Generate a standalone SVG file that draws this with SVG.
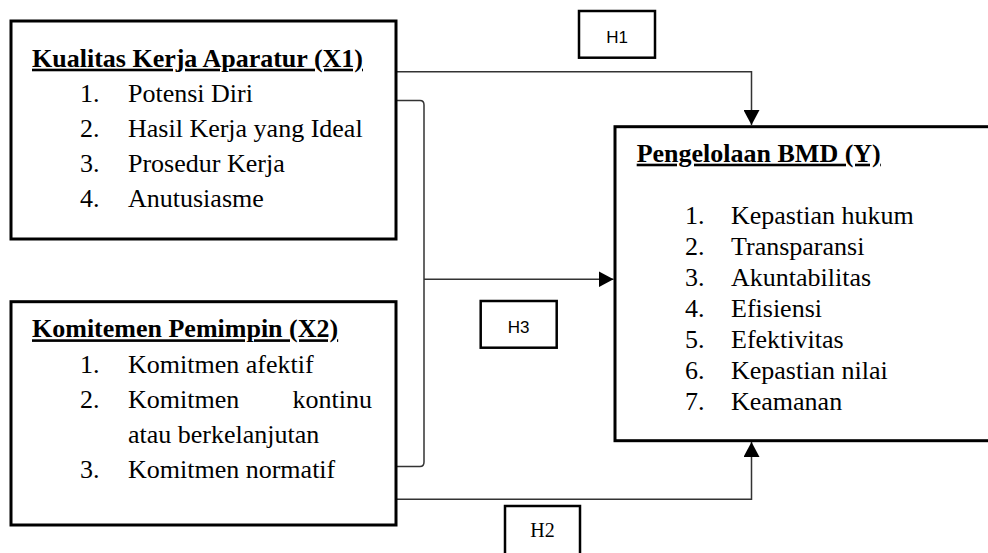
<svg xmlns="http://www.w3.org/2000/svg" width="988" height="553" viewBox="0 0 988 553">
<style>
.box{fill:#fff;stroke:#000;stroke-width:3}
.hbox{fill:#fff;stroke:#000;stroke-width:2.5}
.t{font-family:"Liberation Serif","Times New Roman",serif;font-size:26px;fill:#000}
.ttl{font-family:"Liberation Serif","Times New Roman",serif;font-size:26px;font-weight:bold;fill:#000;text-decoration:underline}
.h{font-family:"Liberation Sans",Arial,sans-serif;font-size:17px;fill:#000;text-anchor:middle}
.h2{font-family:"Liberation Serif","Times New Roman",serif;font-size:20px;fill:#000;text-anchor:middle}
.c{fill:none;stroke:#333;stroke-width:1.5}
</style>
<defs>
<marker id="arr" viewBox="0 0 15 16" refX="15" refY="8" markerWidth="15" markerHeight="16" orient="auto" markerUnits="userSpaceOnUse">
<path d="M0,0 L15,8 L0,16 z" fill="#000"/>
</marker>
</defs>
<rect width="988" height="553" fill="#fff"/>

<g id="connectors">
<path class="c" d="M396,71.7 H751.5 V125" marker-end="url(#arr)"/>
<path class="c" d="M396,100.5 H420 Q424,100.5 424,105 V462 Q424,466.5 420,466.5 H396"/>
<path class="c" d="M424,279.3 H613.5" marker-end="url(#arr)"/>
<path class="c" d="M396,499.3 H751.5 V442" marker-end="url(#arr)"/>
</g>

<g id="x1">
<rect class="box" x="11" y="21" width="385" height="218"/>
<text class="ttl" x="32" y="66.7">Kualitas Kerja Aparatur (X1)</text>
<text class="t" x="80" y="102">1.</text><text class="t" x="128" y="102">Potensi Diri</text>
<text class="t" x="80" y="137">2.</text><text class="t" x="128" y="137">Hasil Kerja yang Ideal</text>
<text class="t" x="80" y="172">3.</text><text class="t" x="128" y="172">Prosedur Kerja</text>
<text class="t" x="80" y="207">4.</text><text class="t" x="128" y="207">Anutusiasme</text>
</g>

<g id="x2">
<rect class="box" x="11" y="301.7" width="385" height="223.3"/>
<text class="ttl" x="32" y="337.3">Komitemen Pemimpin (X2)</text>
<text class="t" x="80" y="372.5">1.</text><text class="t" x="128" y="372.5">Komitmen afektif</text>
<text class="t" x="80" y="407.5">2.</text><text class="t" x="128" y="407.5">Komitmen</text><text class="t" x="372" y="407.5" text-anchor="end">kontinu</text>
<text class="t" x="128" y="442.7">atau berkelanjutan</text>
<text class="t" x="80" y="478">3.</text><text class="t" x="128" y="478">Komitmen normatif</text>
</g>

<g id="y">
<rect class="box" x="615" y="126.7" width="400" height="314"/>
<text class="ttl" x="636.7" y="161.7">Pengelolaan BMD (Y)</text>
<text class="t" x="685" y="224">1.</text><text class="t" x="731" y="224">Kepastian hukum</text>
<text class="t" x="685" y="255">2.</text><text class="t" x="731" y="255">Transparansi</text>
<text class="t" x="685" y="286">3.</text><text class="t" x="731" y="286">Akuntabilitas</text>
<text class="t" x="685" y="317">4.</text><text class="t" x="731" y="317">Efisiensi</text>
<text class="t" x="685" y="348">5.</text><text class="t" x="731" y="348">Efektivitas</text>
<text class="t" x="685" y="379">6.</text><text class="t" x="731" y="379">Kepastian nilai</text>
<text class="t" x="685" y="410">7.</text><text class="t" x="731" y="410">Keamanan</text>
</g>

<g id="h1">
<rect class="hbox" x="579" y="11" width="76" height="46.7"/>
<text class="h" x="617" y="43">H1</text>
</g>

<g id="h3">
<rect class="hbox" x="480.7" y="301" width="76" height="46.7"/>
<text class="h" x="518.7" y="333">H3</text>
</g>

<g id="h2">
<rect class="hbox" x="505" y="506" width="75" height="60"/>
<text class="h2" x="542.5" y="536.7">H2</text>
</g>
</svg>
